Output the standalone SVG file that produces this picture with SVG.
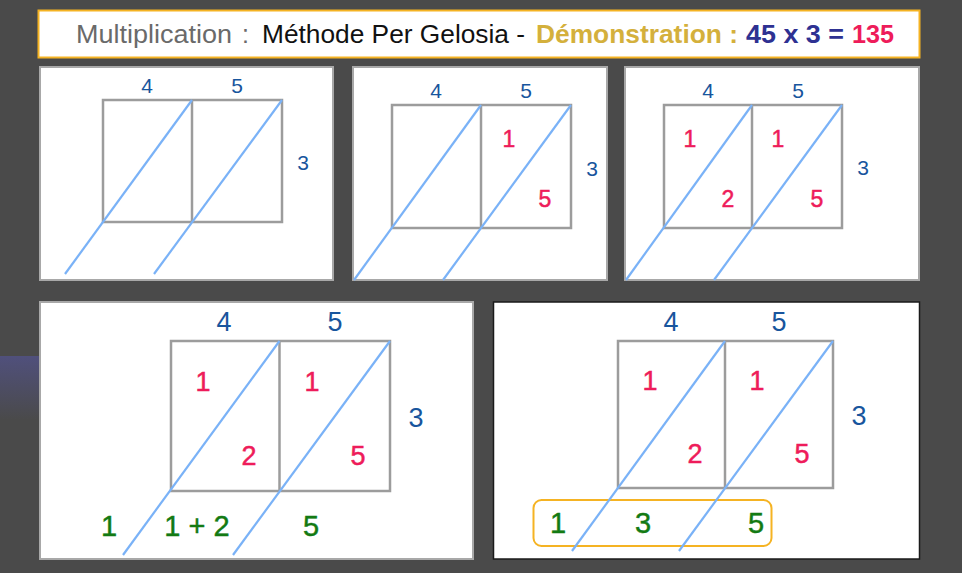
<svg xmlns="http://www.w3.org/2000/svg" width="962" height="573" viewBox="0 0 962 573">
<defs>
<linearGradient id="pg" x1="0" y1="0" x2="0" y2="1">
<stop offset="0" stop-color="#50507c"/>
<stop offset="1" stop-color="#4a4a4a"/>
</linearGradient>
</defs>
<style>
.panel{fill:#fff;stroke:#a8a8a8;stroke-width:2}
.grid{fill:none;stroke:#9c9c9c;stroke-width:2.5}
.diag{stroke:#7ab2f7;stroke-width:2.2;fill:none}
text{font-family:"Liberation Sans",Arial,sans-serif;text-anchor:middle}
.b{fill:#18559d}
.r{fill:#ee1c5a;stroke:#ee1c5a;stroke-width:0.5}
.g{fill:#137a13;stroke:#137a13;stroke-width:0.45}
.s1{font-size:21px}
.s2{font-size:23px}
.s3{font-size:27px}
.s4{font-size:29px}
.t{font-size:25px;text-anchor:start}
</style>
<rect x="0" y="0" width="962" height="573" fill="#4a4a4a"/>
<rect x="0" y="356" width="40" height="64" fill="url(#pg)"/>

<g id="title">
<rect x="38.5" y="10.5" width="881" height="47" fill="#fff" stroke="#f5b323" stroke-width="2"/>
<text class="t" x="76" y="43" fill="#6a6a6a" textLength="156" lengthAdjust="spacingAndGlyphs">Multiplication</text>
<text class="t" x="242" y="43" fill="#6a6a6a">:</text>
<text class="t" x="262" y="43" fill="#111" textLength="263" lengthAdjust="spacingAndGlyphs">Méthode Per Gelosia -</text>
<text class="t" x="536" y="43" fill="#d4b03c" font-weight="bold" textLength="202" lengthAdjust="spacingAndGlyphs">Démonstration :</text>
<text class="t" x="746" y="43" fill="#2e3192" font-weight="bold" textLength="98" lengthAdjust="spacingAndGlyphs">45 x 3 =</text>
<text class="t" x="852" y="43" fill="#ee1c5a" font-weight="bold" textLength="42" lengthAdjust="spacingAndGlyphs">135</text>
</g>

<g id="panel1">
<rect class="panel" x="40" y="67" width="293" height="213"/>
<rect class="grid" x="103" y="100" width="179" height="122"/>
<line class="grid" x1="192" y1="100" x2="192" y2="222"/>
<line class="diag" x1="192" y1="100" x2="65" y2="274"/>
<line class="diag" x1="282" y1="100" x2="154" y2="274"/>
<text class="b s1" x="147" y="93">4</text>
<text class="b s1" x="237" y="93">5</text>
<text class="b s1" x="303" y="170">3</text>
</g>

<g id="panel2">
<rect class="panel" x="353" y="67" width="254" height="213"/>
<rect class="grid" x="392" y="105" width="179" height="123"/>
<line class="grid" x1="481" y1="105" x2="481" y2="228"/>
<line class="diag" x1="481" y1="105" x2="354" y2="280"/>
<line class="diag" x1="571" y1="105" x2="443" y2="280"/>
<text class="b s1" x="436" y="98">4</text>
<text class="b s1" x="526" y="98">5</text>
<text class="b s1" x="592" y="176">3</text>
<text class="r s2" x="509" y="147">1</text>
<text class="r s2" x="545" y="207">5</text>
</g>

<g id="panel3">
<rect class="panel" x="625" y="67" width="294" height="213"/>
<rect class="grid" x="664" y="105" width="178" height="123"/>
<line class="grid" x1="752" y1="105" x2="752" y2="228"/>
<line class="diag" x1="752" y1="105" x2="626" y2="280"/>
<line class="diag" x1="842" y1="105" x2="714" y2="280"/>
<text class="b s1" x="708" y="98">4</text>
<text class="b s1" x="798" y="98">5</text>
<text class="b s1" x="863" y="175">3</text>
<text class="r s2" x="690" y="147">1</text>
<text class="r s2" x="728" y="207">2</text>
<text class="r s2" x="778" y="147">1</text>
<text class="r s2" x="817" y="207">5</text>
</g>

<g id="panel4">
<rect class="panel" x="40" y="302" width="433" height="257"/>
<rect class="grid" x="171" y="341" width="219" height="150"/>
<line class="grid" x1="279.5" y1="341" x2="279.5" y2="491"/>
<line class="diag" x1="279.5" y1="341" x2="123" y2="555"/>
<line class="diag" x1="390" y1="341" x2="233" y2="555"/>
<text class="b s3" x="224" y="331">4</text>
<text class="b s3" x="335" y="331">5</text>
<text class="b s3" x="416" y="427">3</text>
<text class="r s3" x="203" y="391">1</text>
<text class="r s3" x="249" y="465">2</text>
<text class="r s3" x="312" y="391">1</text>
<text class="r s3" x="358" y="465">5</text>
<text class="g s4" x="109" y="536">1</text>
<text class="g s4" x="197" y="536">1 + 2</text>
<text class="g s4" x="311" y="536">5</text>
</g>

<g id="panel5">
<rect x="493.5" y="302" width="426" height="257" fill="#fff" stroke="#1a1a1a" stroke-width="1.5"/>
<rect class="grid" x="618" y="341" width="215" height="147"/>
<line class="grid" x1="725" y1="341" x2="725" y2="488"/>
<rect x="533.5" y="500" width="238" height="46" rx="8" fill="none" stroke="#f5b323" stroke-width="2"/>
<line class="diag" x1="725" y1="341" x2="572" y2="551"/>
<line class="diag" x1="833" y1="341" x2="679" y2="551"/>
<text class="b s3" x="671" y="331">4</text>
<text class="b s3" x="779" y="331">5</text>
<text class="b s3" x="859" y="425">3</text>
<text class="r s3" x="650" y="390">1</text>
<text class="r s3" x="695" y="463">2</text>
<text class="r s3" x="757" y="390">1</text>
<text class="r s3" x="802" y="463">5</text>
<text class="g s4" x="558" y="533">1</text>
<text class="g s4" x="643" y="533">3</text>
<text class="g s4" x="756" y="533">5</text>
</g>
</svg>
